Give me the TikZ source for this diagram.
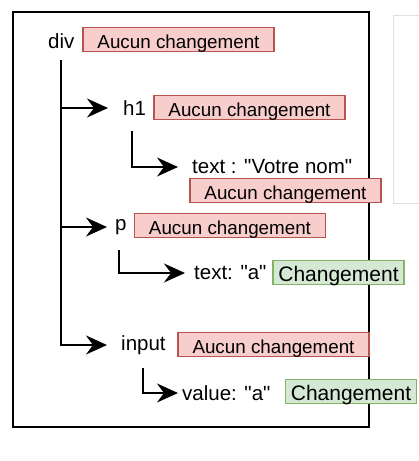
\documentclass[tikz,border=0pt]{standalone}
\usepackage{fontspec}
\setmainfont{Liberation Sans}[Ligatures=TeXOff]
\usetikzlibrary{arrows.meta}
\definecolor{nochgfill}{HTML}{F8CECC}
\definecolor{nochgdraw}{HTML}{B85450}
\definecolor{chgfill}{HTML}{D5E8D4}
\definecolor{chgdraw}{HTML}{82B366}
\begin{document}
\begin{tikzpicture}[x=1pt, y=-1pt,
    elem/.style={anchor=west, inner sep=0pt, font=\fontsize{20.5}{24}\selectfont},
    nochg/.style={draw=nochgdraw, fill=nochgfill, line width=1.2pt, inner sep=0pt,
        text height=18.5pt, text depth=0pt,
        minimum width=191pt, minimum height=24pt, font=\fontsize{18.8}{22}\selectfont},
    chg/.style={draw=chgdraw, fill=chgfill, line width=1.2pt, inner sep=0pt,
        text height=18.5pt, text depth=0pt,
        minimum width=131pt, minimum height=24pt, font=\fontsize{21}{24}\selectfont},
    branch/.style={-{Stealth[length=21pt, width=19pt, inset=7pt]}, line width=1.8pt}]
    \useasboundingbox (0, 0) rectangle (419, 461);
    \draw[black!12, line width=0.8pt] (393, 15) rectangle (425, 203);
    \draw[line width=1.8pt] (13, 12) rectangle (369, 427);

    % arbre des elements
    \node[elem] (div) at (48, 41) {div};
    \node[elem] (h1) at (123, 108) {h1};
    \node[elem] (nom) at (192, 167) {text : "Votre nom"};
    \node[elem] (p) at (115, 227) {p};
    \node[elem] (ptxt) at (194, 273) {text: "a"};
    \node[elem] (input) at (121, 345) {input};
    \node[elem] (val) at (182, 393) {value: "a"};

    \coordinate (divs) at (61, 60);
    \coordinate (h1s) at (132, 131);
    \coordinate (ps) at (119, 250);
    \coordinate (inputs) at (143, 368);

    \draw[branch, shorten >=15pt] (divs) |- (h1);
    \draw[branch, shorten >=8pt] (divs) |- (p);
    \draw[branch, shorten >=14pt] (divs) |- (input);
    \draw[branch, shorten >=14pt] (h1s) |- (nom);
    \draw[branch, shorten >=9pt] (ps) |- (ptxt);
    \draw[branch, shorten >=4pt] (inputs) |- (val);

    % etiquettes
    \node[nochg] (divlab) at (178.5, 39.5) {Aucun changement};
    \node[nochg] (h1lab) at (249.5, 107.5) {Aucun changement};
    \node[nochg] (nomlab) at (285.5, 190.5) {Aucun changement};
    \node[nochg] (plab) at (230, 225.5) {Aucun changement};
    \node[nochg] (inputlab) at (273.5, 344.5) {Aucun changement};
    \node[chg] (ptxtlab) at (338.5, 272.5) {Changement};
    \node[chg] (vallab) at (351, 391.5) {Changement};
\end{tikzpicture}
\end{document}
